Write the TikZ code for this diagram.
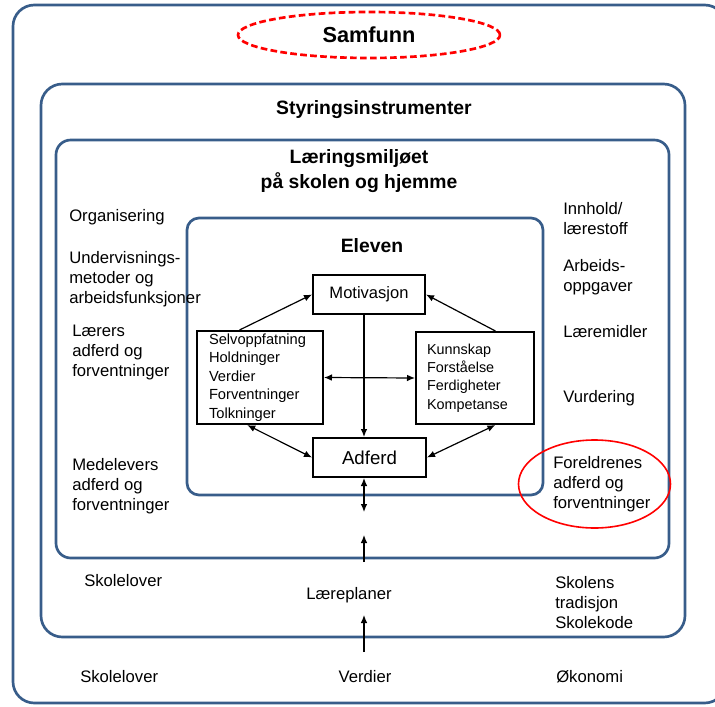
\documentclass[tikz,border=0pt]{standalone}
\usepackage{fontspec}
\setmainfont{Liberation Sans}
\usetikzlibrary{calc, arrows.meta, shapes.geometric}

\definecolor{frameblue}{RGB}{56,93,138}

\begin{document}
\begin{tikzpicture}[x=0.75pt, y=-0.75pt,
	frame/.style={draw=frameblue, line width=2pt},
	box/.style={draw, line width=1.5pt, inner sep=0pt},
	txt/.style={inner sep=0pt, align=left, font=\fontsize{12.5}{15}\selectfont},
	head/.style={inner sep=0pt, align=center, font=\bfseries\fontsize{14.5}{18.75}\selectfont},
	arr/.style={line width=0.9pt, -{Latex[length=6pt, width=5pt]}},
	dbl/.style={line width=0.9pt, {Latex[length=6pt, width=5pt]}-{Latex[length=6pt, width=5pt]}}]
	\clip (0,0) rectangle (715,707);
	\draw[frame, rounded corners=16pt] (13,5) rectangle (726,703);
	\draw[frame, rounded corners=16pt] (41,84) rectangle (685,637);
	\draw[frame, rounded corners=11pt] (56,140) rectangle (669,558);
	\draw[frame, rounded corners=9pt] (187,218) rectangle (543,495);

	\node[head, ellipse, draw=red, line width=2pt, dash pattern=on 5pt off 2.5pt, minimum width=196.5pt, minimum height=34.5pt, font=\bfseries\fontsize{16.3}{20}\selectfont] (samfunn) at (369,35) {Samfunn};
	\node[head] (styring) at (374,110) {Styringsinstrumenter};
	\node[head] (miljo) at (359,171) {Læringsmiljøet\\på skolen og hjemme};
	\node[head] (eleven) at (372,246) {Eleven};

	\node[txt, anchor=west] (org) at (69,217) {Organisering};
	\node[txt, anchor=west] (metoder) at (69,279) {Undervisnings-\\metoder og\\arbeidsfunksjoner};
	\node[txt, anchor=west] (laerer) at (72,352) {Lærers\\adferd og\\forventninger};
	\node[txt, anchor=west] (medelev) at (72,486) {Medelevers\\adferd og\\forventninger};
	\node[txt, anchor=west] (innhold) at (563,219) {Innhold/\\lærestoff};
	\node[txt, anchor=west] (oppgaver) at (563,277) {Arbeids-\\oppgaver};
	\node[txt, anchor=west] (midler) at (563,332) {Læremidler};
	\node[txt, anchor=west] (vurdering) at (563,398) {Vurdering};
	\draw[red, line width=1.2pt] (594.5,484) ellipse [x radius=76, y radius=44];
	\node[txt, anchor=west] (foreldre) at (553,484) {Foreldrenes\\adferd og\\forventninger};

	\node[txt, anchor=west] (lover) at (84,581) {Skolelover};
	\node[txt] (planer) at (349,595) {Læreplaner};
	\node[txt, anchor=west] (tradisjon) at (555,603) {Skolens\\tradisjon\\Skolekode};
	\node[txt, anchor=west] (lover2) at (80,677) {Skolelover};
	\node[txt] (verdier) at (365,677) {Verdier};
	\node[txt, anchor=west] (okonomi) at (556,677) {Økonomi};

	\node[box, minimum width=84pt, minimum height=29.25pt, font=\fontsize{12.4}{15}\selectfont] (mot) at (369,294.5) {Motivasjon};
	\node[box, minimum width=84.75pt, minimum height=29.25pt, font=\fontsize{14}{17}\selectfont] (adf) at (369.5,457.5) {Adferd};
	\node[box, align=left, text width=76.5pt, inner xsep=9pt, minimum height=69.75pt, font=\fontsize{11}{13.8}\selectfont] (selv) at (260,377.5) {Selvoppfatning\\Holdninger\\Verdier\\Forventninger\\Tolkninger};
	\node[box, align=left, text width=72pt, inner xsep=8.25pt, minimum height=69pt, font=\fontsize{10.8}{13.8}\selectfont] (kunn) at (475,378) {Kunnskap\\Forståelse\\Ferdigheter\\Kompetanse};

	\coordinate (ax) at (364,0);
	\coordinate (mid) at (364,512);
	\coordinate (up1a) at (364,562);
	\coordinate (up1b) at (364,535);
	\coordinate (up2a) at (364,652);
	\coordinate (up2b) at (364,615);
	\draw[arr] ($(selv.north west)!0.34!(selv.north east)$) -- (mot.west);
	\draw[arr] ($(kunn.north west)!0.67!(kunn.north east)$) -- (mot.east);
	\draw[arr] (mot.south -| ax) -- (adf.north -| ax);
	\draw[dbl] (selv.east) -- (kunn.west);
	\draw[dbl] ($(selv.south west)!0.4!(selv.south east)$) -- (adf.west);
	\draw[dbl] ($(kunn.south west)!0.67!(kunn.south east)$) -- (adf.east);
	\draw[dbl] (adf.south -| ax) -- (mid);
	\draw[arr] (up1a) -- (up1b);
	\draw[arr] (up2a) -- (up2b);
\end{tikzpicture}
\end{document}
